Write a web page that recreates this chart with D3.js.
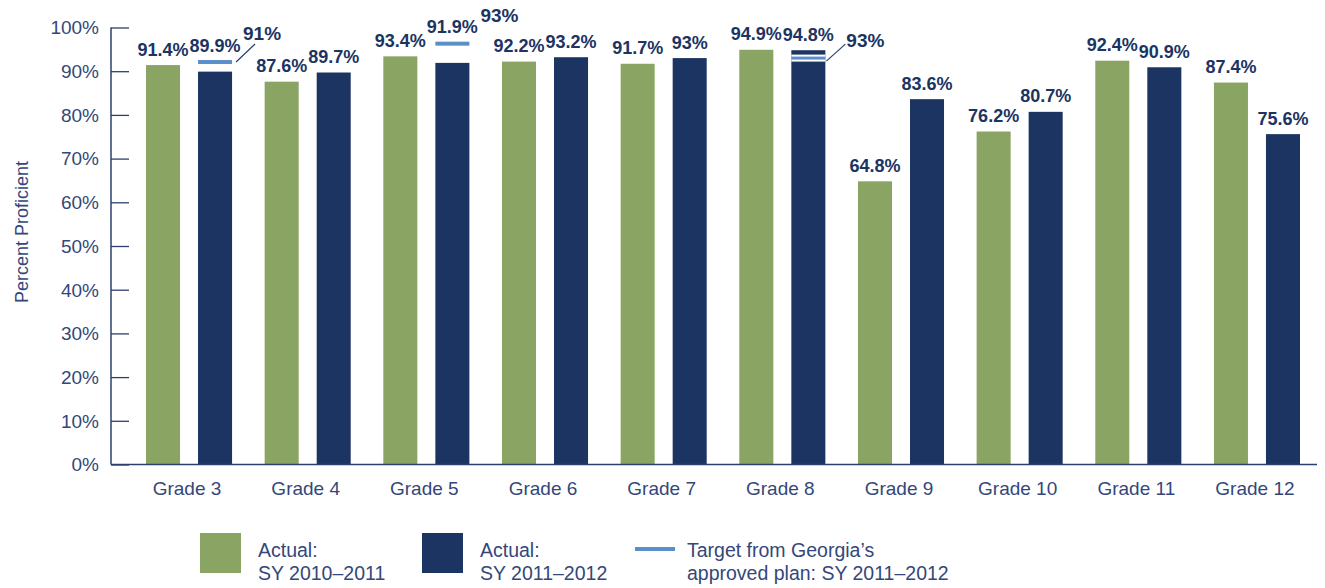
<!DOCTYPE html>
<html>
<head>
<meta charset="utf-8">
<script src="https://cdn.jsdelivr.net/npm/d3@7/dist/d3.min.js"></script>
<style>
  body { margin: 0; background: #fff; }
  svg { display: block; font-family: "Liberation Sans", Arial, sans-serif; }
</style>
</head>
<body>
<svg id="chart" width="1325" height="588"></svg>
<script>
// ---- data ----
const grades = ["Grade 3","Grade 4","Grade 5","Grade 6","Grade 7","Grade 8","Grade 9","Grade 10","Grade 11","Grade 12"];
const actual2010 = [91.4, 87.6, 93.4, 92.2, 91.7, 94.9, 64.8, 76.2, 92.4, 87.4];
const actual2011 = [89.9, 89.7, 91.9, 93.2, 93.0, 94.8, 83.6, 80.7, 90.9, 75.6];
const targetGrades = ["Grade 3", "Grade 5", "Grade 8"];
const targetValues = [91, 93, 93];            // labelled target values
const targetLineLevels = [92.1, 96.3, 93];    // level at which each target line is drawn in the picture
const targetLeader = [true, false, true];
const yTicks = [0,10,20,30,40,50,60,70,80,90,100];
const seriesKeys = ["SY 2010–2011", "SY 2011–2012"];
const legendLabels = [["Actual:", "SY 2010–2011"], ["Actual:", "SY 2011–2012"], ["Target from Georgia’s", "approved plan: SY 2011–2012"]];

// ---- styles ----
const GREEN = "#8aa463", NAVY = "#1c3461", TARGET = "#5b8fc9", TEXT = "#34477a", AXIS = "#2d3f6e";
const LBL = 18;

const svg = d3.select("#chart");
const y = d3.scaleLinear().domain([0, 100]).range([464.5, 27.5]);
const x0 = d3.scaleBand().domain(grades).range([129.7, 1316.3]).padding(0);
const x1 = d3.scaleBand().domain(seriesKeys).range([16.3, x0.bandwidth() - 16.3]).paddingInner(0.346);
const axisLeft = 111, axisRight = 1317;

// y axis
const yAxis = svg.append("g").attr("transform", `translate(${axisLeft},0)`)
  .call(d3.axisRight(y).tickValues(yTicks).tickSize(18).tickFormat(""));
yAxis.select(".domain").remove();
yAxis.selectAll(".tick line").attr("stroke", AXIS).attr("stroke-width", 1.3);
svg.append("line").attr("x1", axisLeft).attr("x2", axisLeft).attr("y1", y(100)).attr("y2", y(0))
  .attr("stroke", AXIS).attr("stroke-width", 1.5);
svg.append("g").selectAll("text").data(yTicks).join("text")
  .attr("x", 99).attr("y", d => y(d)).attr("dy", "0.36em")
  .attr("text-anchor", "end").attr("font-size", 19).attr("fill", TEXT)
  .text(d => d + "%");

svg.append("text")
  .attr("transform", "translate(28,232) rotate(-90)")
  .attr("text-anchor", "middle").attr("font-size", 18).attr("fill", TEXT)
  .text("Percent Proficient");

// bars
const groups = svg.append("g").selectAll("g").data(grades).join("g")
  .attr("transform", d => `translate(${x0(d)},0)`);
groups.each(function(g, i) {
  const vals = [actual2010[i], actual2011[i]];
  const sel = d3.select(this);
  vals.forEach((v, k) => {
    sel.append("rect")
      .attr("x", x1(seriesKeys[k])).attr("width", x1.bandwidth())
      .attr("y", y(v)).attr("height", y(0) - y(v))
      .attr("fill", k === 0 ? GREEN : NAVY);
  });
});

// x axis line
svg.append("line").attr("x1", axisLeft).attr("x2", axisRight).attr("y1", y(0)).attr("y2", y(0))
  .attr("stroke", AXIS).attr("stroke-width", 1.5);
svg.append("g").selectAll("text").data(grades).join("text")
  .attr("x", d => x0(d) + x0.bandwidth() / 2 - 2).attr("y", 495)
  .attr("text-anchor", "middle").attr("font-size", 19).attr("fill", TEXT)
  .text(d => d);

// targets
targetGrades.forEach((g, j) => {
  const i = grades.indexOf(g);
  const t = targetValues[j];
  const lvl = targetLineLevels[j];
  const bx = x0(g) + x1(seriesKeys[1]);
  const bw = x1.bandwidth();
  const yt = y(lvl);
  const inside = lvl <= actual2011[i];
  if (inside) {
    svg.append("rect").attr("x", bx).attr("width", bw).attr("y", yt - 3.5).attr("height", 7).attr("fill", "#fff");
    svg.append("rect").attr("x", bx).attr("width", bw).attr("y", yt - 1.5).attr("height", 3).attr("fill", TARGET);
    if (targetLeader[j]) svg.append("line").attr("x1", bx + bw + 1).attr("y1", yt + 3)
      .attr("x2", bx + bw + 20).attr("y2", yt - 14).attr("stroke", AXIS).attr("stroke-width", 1.2);
    svg.append("text").attr("x", bx + bw + 21).attr("y", yt - 11)
      .attr("font-size", LBL + 1).attr("font-weight", "bold").attr("fill", NAVY).text(t + "%");
  } else {
    svg.append("rect").attr("x", bx).attr("width", bw).attr("y", yt - 2).attr("height", 4).attr("fill", TARGET);
    if (targetLeader[j]) svg.append("line").attr("x1", bx + bw + 4).attr("y1", yt)
      .attr("x2", bx + bw + 23).attr("y2", yt - 18).attr("stroke", AXIS).attr("stroke-width", 1.2);
    svg.append("text").attr("x", bx + bw + 11).attr("y", yt - 22)
      .attr("font-size", LBL + 1).attr("font-weight", "bold").attr("fill", NAVY).text(t + "%");
  }
});

// value labels
grades.forEach((g, i) => {
  const vals = [actual2010[i], actual2011[i]];
  vals.forEach((v, k) => {
    let top = y(v);
    const tj = targetGrades.indexOf(g);
    if (k === 1 && tj >= 0 && targetLineLevels[tj] > v) top = y(targetLineLevels[tj]) - 1;
    svg.append("text")
      .attr("x", x0(g) + x1(seriesKeys[k]) + x1.bandwidth() / 2)
      .attr("y", top - 9.5)
      .attr("text-anchor", "middle").attr("font-size", LBL).attr("font-weight", "bold")
      .attr("fill", NAVY).text(v + "%");
  });
});

// legend
const legend = svg.append("g");
const legX = [200, 422, 635];
legendLabels.forEach((lab, k) => {
  const gx = legX[k];
  if (k < 2) {
    legend.append("rect").attr("x", gx).attr("y", 533).attr("width", 41).attr("height", 40)
      .attr("fill", k === 0 ? GREEN : NAVY);
  } else {
    legend.append("rect").attr("x", gx).attr("y", 547).attr("width", 40).attr("height", 4).attr("fill", TARGET);
  }
  const tx = k < 2 ? gx + 58 : gx + 52;
  lab.forEach((line, r) => {
    legend.append("text").attr("x", tx).attr("y", 557 + r * 23)
      .attr("font-size", 19.5).attr("fill", TEXT).text(line);
  });
});
</script>
</body>
</html>
